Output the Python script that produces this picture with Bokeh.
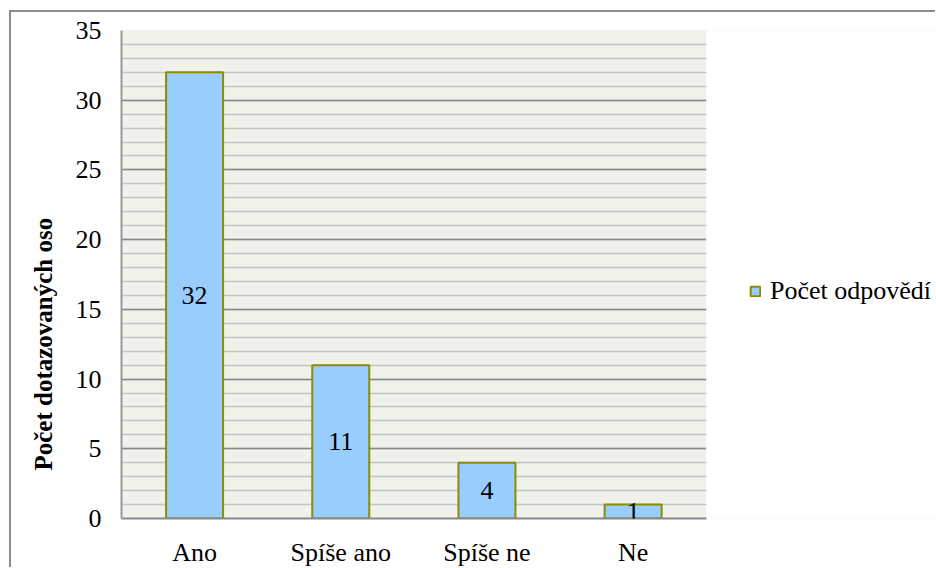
from bokeh.plotting import figure
from bokeh.models import (ColumnDataSource, SingleIntervalTicker, FixedTicker, Legend, LegendItem,
                          LabelSet, Range1d, Title, BoxAnnotation)
from bokeh.embed import file_html
from bokeh.resources import INLINE
from bokeh.core.properties import value

categories = ["Ano", "Spíše ano", "Spíše ne", "Ne"]
counts = [32, 11, 4, 1]
series_name = "Počet odpovědí"
y_title = "Počet dotazovaných oso"

FONT = "'Liberation Serif', serif"
BAR_FILL = "#99CCFF"
BAR_LINE = "#8C8C00"

n = len(categories)
xpos = [i + 0.5 for i in range(n)]
src = ColumnDataSource(data=dict(x=xpos, val=counts,
                                 mid=[v / 2 for v in counts],
                                 lbl=[str(v) for v in counts]))

# frame spans 120..935 px; one category = 146 px
x_end = 815 / 146
p = figure(x_range=Range1d(0, x_end), y_range=Range1d(0, 35), width=926, height=557,
           output_backend="svg", toolbar_location=None,
           min_border_left=109, min_border_right=0, min_border_top=18, min_border_bottom=49)
p.styles = {"border-left": "2px solid #8c8c8c", "border-top": "2px solid #8c8c8c",
            "box-sizing": "border-box", "margin-left": "9px", "margin-top": "10px"}

p.background_fill_color = "#EFF1EA"
p.border_fill_color = "white"
p.outline_line_color = None

r = p.vbar(x="x", top="val", width=0.39, source=src,
           fill_color=BAR_FILL, line_color=BAR_LINE, line_width=2)

labels = LabelSet(x="x", y="mid", text="lbl", source=src,
                  text_align="center", text_baseline="middle",
                  text_font=value(FONT), text_font_size="26px", text_color="black")
p.add_layout(labels)

# white area to the right of the plot area (legend zone)
p.add_layout(BoxAnnotation(left=n, fill_color="white", fill_alpha=1, line_color=None,
                           editable=False))

p.yaxis.ticker = SingleIntervalTicker(interval=5, num_minor_ticks=5)
p.ygrid.ticker = p.yaxis.ticker
p.ygrid.grid_line_color = "#888888"
p.ygrid.grid_line_width = 1.5
p.ygrid.minor_grid_line_color = "#C4C4C4"
p.ygrid.minor_grid_line_width = 1.5
p.xgrid.grid_line_color = None

p.yaxis.axis_line_color = "#999999"
p.yaxis.axis_line_width = 2
p.yaxis.major_tick_line_color = None
p.yaxis.minor_tick_line_color = None
p.yaxis.major_label_text_font = FONT
p.yaxis.major_label_text_font_size = "26px"
p.yaxis.major_label_text_color = "black"
p.yaxis.major_label_standoff = 14

p.xaxis.ticker = FixedTicker(ticks=xpos, minor_ticks=[])
p.xaxis.major_label_overrides = {x: c for x, c in zip(xpos, categories)}
p.xaxis.bounds = (0, n)
p.xaxis.axis_line_color = "#888888"
p.xaxis.axis_line_width = 2
p.xaxis.major_tick_line_color = None
p.xaxis.minor_tick_line_color = None
p.xaxis.major_label_text_font = FONT
p.xaxis.major_label_text_font_size = "26px"
p.xaxis.major_label_text_color = "black"
p.xaxis.major_label_standoff = 13

title = Title(text=y_title, align="left", offset=48, standoff=32,
              text_font=FONT, text_font_size="25px", text_font_style="bold",
              text_color="black")
p.add_layout(title, "left")

legend = Legend(items=[LegendItem(label=series_name, renderers=[r])],
                location=(628, 212), border_line_color=None, background_fill_alpha=0,
                label_text_font=FONT, label_text_font_size="26px", label_text_color="black",
                glyph_width=12, glyph_height=12, label_standoff=9,
                padding=0, margin=0, spacing=0)
p.add_layout(legend, "center")

open("out.html", "w").write(file_html(p, INLINE))
